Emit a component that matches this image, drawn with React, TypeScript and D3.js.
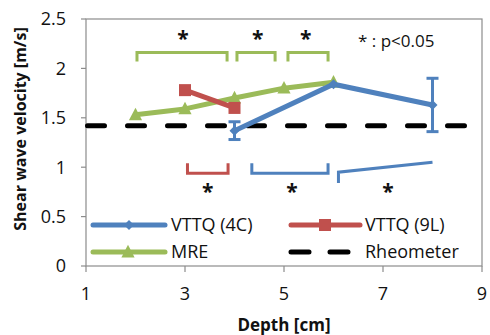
import React from "react";
import * as d3 from "d3";

const xTicks = [1, 3, 5, 7, 9];
const yTicks = [0, 0.5, 1, 1.5, 2, 2.5];

const vttq4cX = [4, 6, 8];
const vttq4cY = [1.37, 1.84, 1.63];
const vttq4cErr = [0.09, 0.0, 0.27];

const vttq9lX = [3, 4];
const vttq9lY = [1.78, 1.6];

const mreX = [2, 3, 4, 5, 6];
const mreY = [1.53, 1.59, 1.7, 1.8, 1.86];

const rheoX = [1, 9];
const rheoY = [1.42, 1.42];

// brackets: [x1, x2, yBar, yTip]
const greenBrackets = [
  [2.03, 3.85, 2.16, 2.07],
  [4.05, 4.82, 2.16, 2.07],
  [5.08, 5.89, 2.16, 2.07],
];
const redBrackets = [[3.05, 3.87, 0.94, 1.04]];
const blueBrackets = [[4.35, 5.89, 0.94, 1.04]];
const blueSlant = [
  [6.1, 0.84],
  [6.1, 0.95],
  [8.0, 1.05],
];
const starsTop = [2.96, 4.47, 5.44];
const starsTopY = 2.34;
const starsBottom = [3.46, 5.16, 7.1];
const starsBottomY = 0.8;

const BLUE = "#4F81BD";
const RED = "#C0504D";
const GREEN = "#9BBB59";
const FONT = "'Open Sans', sans-serif";

export default function App() {
  const left = 86, right = 482, top = 19, bottom = 266;
  const x = d3.scaleLinear().domain([1, 9]).range([left, right]);
  const y = d3.scaleLinear().domain([0, 2.5]).range([bottom, top]);
  const line = d3.line<[number, number]>().x((d) => x(d[0])).y((d) => y(d[1]));

  const bracketPath = (b: number[]) =>
    line([
      [b[0], b[3]],
      [b[0], b[2]],
      [b[1], b[2]],
      [b[1], b[3]],
    ]);

  const tri = (cx: number, cy: number, s: number) =>
    `M${cx},${cy - s * 0.6}L${cx + s * 0.55},${cy + s * 0.45}L${cx - s * 0.55},${cy + s * 0.45}Z`;
  const diamond = (cx: number, cy: number, s: number) =>
    `M${cx},${cy - s}L${cx + s},${cy}L${cx},${cy + s}L${cx - s},${cy}Z`;

  const legRow1 = 225, legRow2 = 252;

  return (
    <svg width={490} height={335} style={{ position: "absolute", left: 0, top: 0, background: "#fff" }}>
      <rect x={0} y={0} width={490} height={335} fill="#fff" />
      {/* plot frame */}
      <rect x={left} y={top} width={right - left} height={bottom - top} fill="none" stroke="#8c8c8c" strokeWidth={1.2} />
      {/* y ticks */}
      {yTicks.map((t) => (
        <g key={"y" + t}>
          <line x1={left - 5} x2={left} y1={y(t)} y2={y(t)} stroke="#8c8c8c" strokeWidth={1.2} />
          <text x={66} y={y(t)} dy="0.35em" textAnchor="end" fontFamily={FONT} fontSize={18} fill="#111">
            {t}
          </text>
        </g>
      ))}
      {xTicks.map((t) => (
        <g key={"x" + t}>
          <line x1={x(t)} x2={x(t)} y1={bottom} y2={bottom + 6} stroke="#8c8c8c" strokeWidth={1.2} />
          <text x={x(t)} y={300} textAnchor="middle" fontFamily={FONT} fontSize={18} fill="#111">
            {t}
          </text>
        </g>
      ))}
      <text
        transform={`translate(26,${129}) rotate(-90)`}
        textAnchor="middle"
        fontFamily={FONT}
        fontWeight="bold"
        fontSize={16}
        fill="#111"
      >
        Shear wave velocity [m/s]
      </text>
      <text x={284} y={331} textAnchor="middle" fontFamily={FONT} fontWeight="bold" fontSize={17} fill="#111">
        Depth [cm]
      </text>

      {/* Rheometer */}
      <path
        d={line(rheoX.map((v, i) => [v, rheoY[i]]) as [number, number][]) || ""}
        fill="none"
        stroke="#000"
        strokeWidth={5}
        strokeLinecap="round"
        strokeDasharray="17 23"
        strokeDashoffset={-1.5}
      />

      {/* MRE */}
      <path d={line(mreX.map((v, i) => [v, mreY[i]]) as [number, number][]) || ""} fill="none" stroke={GREEN} strokeWidth={5} strokeLinejoin="round" />
      {mreX.map((v, i) => (
        <path key={"m" + i} d={tri(x(v), y(mreY[i]), 12)} fill={GREEN} />
      ))}

      {/* VTTQ 9L */}
      <path d={line(vttq9lX.map((v, i) => [v, vttq9lY[i]]) as [number, number][]) || ""} fill="none" stroke={RED} strokeWidth={5} />
      {vttq9lX.map((v, i) => (
        <rect key={"r" + i} x={x(v) - 6} y={y(vttq9lY[i]) - 6} width={12} height={12} fill={RED} />
      ))}

      {/* VTTQ 4C */}
      <path d={line(vttq4cX.map((v, i) => [v, vttq4cY[i]]) as [number, number][]) || ""} fill="none" stroke={BLUE} strokeWidth={5} />
      {vttq4cX.map((v, i) =>
        vttq4cErr[i] > 0 ? (
          <g key={"e" + i} stroke={BLUE} strokeWidth={3}>
            <line x1={x(v)} x2={x(v)} y1={y(vttq4cY[i] - vttq4cErr[i])} y2={y(vttq4cY[i] + vttq4cErr[i])} />
            <line x1={x(v) - 6} x2={x(v) + 6} y1={y(vttq4cY[i] - vttq4cErr[i])} y2={y(vttq4cY[i] - vttq4cErr[i])} />
            <line x1={x(v) - 6} x2={x(v) + 6} y1={y(vttq4cY[i] + vttq4cErr[i])} y2={y(vttq4cY[i] + vttq4cErr[i])} />
          </g>
        ) : null
      )}
      {vttq4cX.map((v, i) => (
        <path key={"b" + i} d={diamond(x(v), y(vttq4cY[i]), 5)} fill={BLUE} />
      ))}

      {/* brackets */}
      {greenBrackets.map((b, i) => (
        <path key={"gb" + i} d={bracketPath(b) || ""} fill="none" stroke={GREEN} strokeWidth={3} />
      ))}
      {redBrackets.map((b, i) => (
        <path key={"rb" + i} d={bracketPath(b) || ""} fill="none" stroke={RED} strokeWidth={3} />
      ))}
      {blueBrackets.map((b, i) => (
        <path key={"bb" + i} d={bracketPath(b) || ""} fill="none" stroke={BLUE} strokeWidth={3} />
      ))}
      <path d={line(blueSlant as [number, number][]) || ""} fill="none" stroke={BLUE} strokeWidth={3} />

      {starsTop.map((v, i) => (
        <text key={"st" + i} x={x(v)} y={y(starsTopY)} dy="0.55em" textAnchor="middle" fontFamily={FONT} fontWeight="bold" fontSize={21} fill="#111">
          *
        </text>
      ))}
      {starsBottom.map((v, i) => (
        <text key={"sb" + i} x={x(v)} y={y(starsBottomY)} dy="0.55em" textAnchor="middle" fontFamily={FONT} fontWeight="bold" fontSize={21} fill="#111">
          *
        </text>
      ))}
      <text x={358} y={47} fontFamily={FONT} fontSize={17} fill="#111">
        * : p&lt;0.05
      </text>

      {/* legend */}
      <line x1={93} x2={165} y1={legRow1} y2={legRow1} stroke={BLUE} strokeWidth={5} strokeLinecap="round" />
      <path d={diamond(129, legRow1, 5)} fill={BLUE} />
      <text x={171} y={legRow1} dy="0.35em" fontFamily={FONT} fontSize={18} fill="#111">VTTQ (4C)</text>

      <line x1={291} x2={360} y1={legRow1} y2={legRow1} stroke={RED} strokeWidth={5} strokeLinecap="round" />
      <rect x={319} y={legRow1 - 6} width={12} height={12} fill={RED} />
      <text x={365} y={legRow1} dy="0.35em" fontFamily={FONT} fontSize={18} fill="#111">VTTQ (9L)</text>

      <line x1={93} x2={165} y1={legRow2} y2={legRow2} stroke={GREEN} strokeWidth={5} strokeLinecap="round" />
      <path d={tri(128, legRow2, 12)} fill={GREEN} />
      <text x={171} y={legRow2} dy="0.35em" fontFamily={FONT} fontSize={18} fill="#111">MRE</text>

      <line x1={291} x2={352} y1={legRow2} y2={legRow2} stroke="#000" strokeWidth={5} strokeLinecap="round" strokeDasharray="18 21" />
      <text x={365} y={legRow2} dy="0.35em" fontFamily={FONT} fontSize={18} fill="#111">Rheometer</text>
    </svg>
  );
}
